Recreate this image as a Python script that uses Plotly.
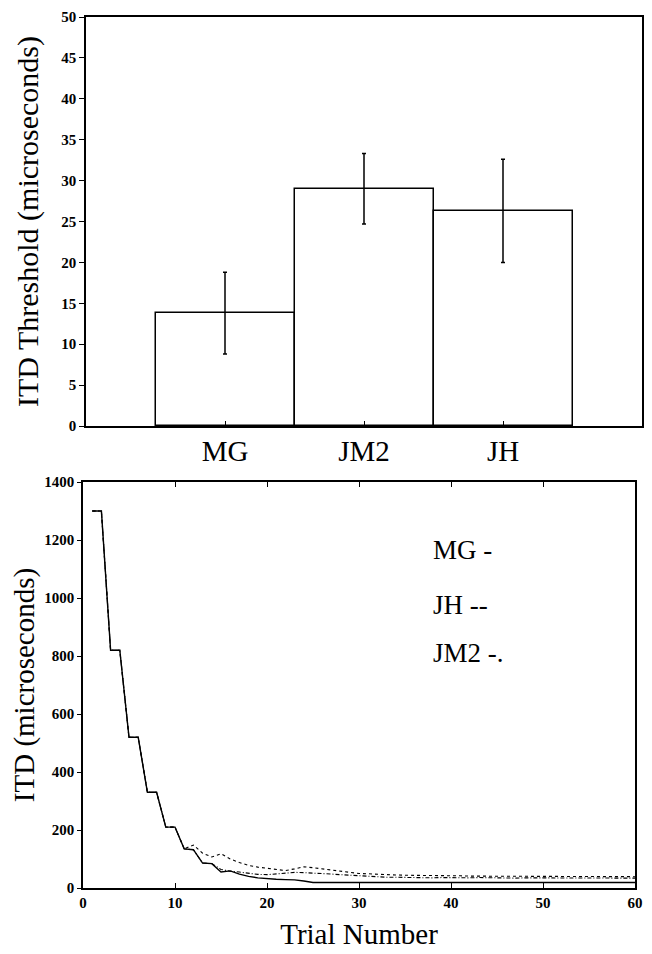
import plotly.graph_objects as go

# ---- data ----
subjects = ["MG", "JM2", "JH"]
subject_pos = [1, 2, 3]
threshold = [13.8, 29.0, 26.3]
threshold_err = [5.0, 4.3, 6.3]

trials = list(range(1, 61))
mg = [1300, 1300, 820, 820, 520, 520, 330, 330, 210, 210,
      135, 132, 86, 84, 55, 59, 48, 40, 35, 32,
      30, 29, 28, 24, 19, 19, 19, 19, 19, 19,
      19, 19, 19, 19, 19, 19, 19, 19, 19, 19,
      19, 19, 19, 19, 19, 19, 19, 19, 19, 19,
      19, 19, 19, 19, 19, 19, 19, 19, 19, 19]
jh = [1300, 1300, 820, 820, 520, 520, 330, 330, 210, 210,
      135, 148, 120, 107, 118, 100, 88, 78, 72, 68,
      62, 60, 66, 73, 70, 66, 61, 56, 52, 50,
      49, 47, 46, 45, 44, 44, 43, 43, 42, 42,
      42, 41, 41, 41, 40, 40, 41, 40, 40, 40,
      40, 39, 40, 39, 39, 40, 39, 39, 39, 39]
jm2 = [1300, 1300, 820, 820, 520, 520, 330, 330, 210, 210,
       135, 132, 86, 84, 64, 58, 55, 50, 47, 46,
       48, 51, 54, 53, 52, 50, 48, 46, 44, 42,
       40, 38, 37, 37, 36, 36, 36, 35, 36, 35,
       35, 35, 36, 35, 35, 35, 34, 35, 35, 34,
       35, 34, 34, 35, 34, 34, 34, 34, 34, 34]

legend_labels = ["MG -", "JH --", "JM2 -."]
legend_y = [1166, 976, 810]

SERIF = "Liberation Serif"
OFF = 8  # page body margin
W, H = 652 - OFF, 954 - OFF

def fx(px):
    return (px - OFF) / W

def fy(py):
    return 1 - (py - OFF) / H

fig = go.Figure()

# Top: bar chart with error bars
fig.add_trace(go.Bar(
    x=subject_pos, y=threshold, width=1.0,
    marker=dict(color="white", line=dict(color="black", width=1.5)),
    error_y=dict(type="data", array=threshold_err, color="black",
                 thickness=1.5, width=2),
    xaxis="x", yaxis="y", showlegend=False,
))

# Bottom: trial curves
fig.add_trace(go.Scatter(
    x=trials, y=jh, mode="lines",
    line=dict(color="black", width=1.1, dash="3px,3px"),
    xaxis="x2", yaxis="y2", showlegend=False,
))
fig.add_trace(go.Scatter(
    x=trials, y=jm2, mode="lines",
    line=dict(color="black", width=1.1, dash="4px,2px,1px,2px"),
    xaxis="x2", yaxis="y2", showlegend=False,
))
fig.add_trace(go.Scatter(
    x=trials, y=mg, mode="lines",
    line=dict(color="black", width=1.4),
    xaxis="x2", yaxis="y2", showlegend=False,
))

tickfont = dict(family=SERIF, size=15, color="black", weight="bold")
title_font = dict(family=SERIF, size=29, color="black")

top_x = [fx(86), fx(642)]
top_y = [fy(426), fy(17)]
bot_x = [fx(83), fx(635)]
bot_y = [fy(888), fy(482)]

fig.update_layout(
    width=W, height=H,
    margin=dict(l=0, r=0, t=0, b=0),
    paper_bgcolor="white", plot_bgcolor="white",
    bargap=0,
    xaxis=dict(
        domain=top_x, anchor="y", range=[0, 4],
        tickvals=subject_pos, ticktext=subjects,
        ticks="inside", ticklen=5, tickcolor="black", tickwidth=1,
        tickfont=dict(family=SERIF, size=29, color="black"),
        ticklabelstandoff=-2,
        showline=True, linecolor="black", linewidth=1.5, mirror=True,
        showgrid=False, zeroline=False, automargin=False,
    ),
    xaxis3=dict(
        overlaying="x", side="top", anchor="y", range=[0, 4],
        tickvals=[0.5, 1, 1.5, 2, 2.5, 3, 3.5],
        ticks="inside", ticklen=4, tickcolor="black",
        showticklabels=False, showline=False,
        showgrid=False, zeroline=False, automargin=False,
    ),
    yaxis=dict(
        domain=top_y, anchor="x", range=[0, 50], dtick=5, tick0=0,
        ticks="outside", ticklen=5, tickcolor="black",
        tickfont=tickfont, ticklabelstandoff=0,
        title=dict(text="ITD Threshold (microseconds)", font=dict(family=SERIF, size=30, color="black"), standoff=14),
        showline=True, linecolor="black", linewidth=1.5, mirror=True,
        showgrid=False, zeroline=False, automargin=False,
    ),
    yaxis3=dict(
        overlaying="y", side="right", anchor="x", range=[0, 50],
        dtick=5, tick0=0,
        ticks="inside", ticklen=4, tickcolor="black",
        showticklabels=False, showline=False,
        showgrid=False, zeroline=False, automargin=False,
    ),
    xaxis2=dict(
        domain=bot_x, anchor="y2", range=[0, 60], dtick=10, tick0=0,
        ticks="inside", ticklen=5, tickcolor="black",
        tickfont=tickfont,
        title=dict(text="Trial Number", font=title_font, standoff=14),
        showline=True, linecolor="black", linewidth=1.5, mirror="ticks",
        showgrid=False, zeroline=False, automargin=False,
    ),
    yaxis2=dict(
        domain=bot_y, anchor="x2", range=[0, 1400], dtick=200, tick0=0,
        ticks="outside", ticklen=4, tickcolor="black",
        tickfont=tickfont, ticklabelstandoff=0,
        title=dict(text="ITD (microseconds)", font=title_font, standoff=10),
        showline=True, linecolor="black", linewidth=1.5, mirror=True,
        showgrid=False, zeroline=False, automargin=False,
    ),
    yaxis4=dict(
        overlaying="y2", side="right", anchor="x2", range=[0, 1400],
        dtick=200, tick0=0,
        ticks="inside", ticklen=4, tickcolor="black",
        showticklabels=False, showline=False,
        showgrid=False, zeroline=False, automargin=False,
    ),
)

for label, yv in zip(legend_labels, legend_y):
    fig.add_annotation(
        x=37.8, y=yv, xref="x2", yref="y2", text=label,
        showarrow=False, xanchor="left", yanchor="middle",
        font=dict(family=SERIF, size=27, color="black"),
    )

fig.write_html("out.html")
